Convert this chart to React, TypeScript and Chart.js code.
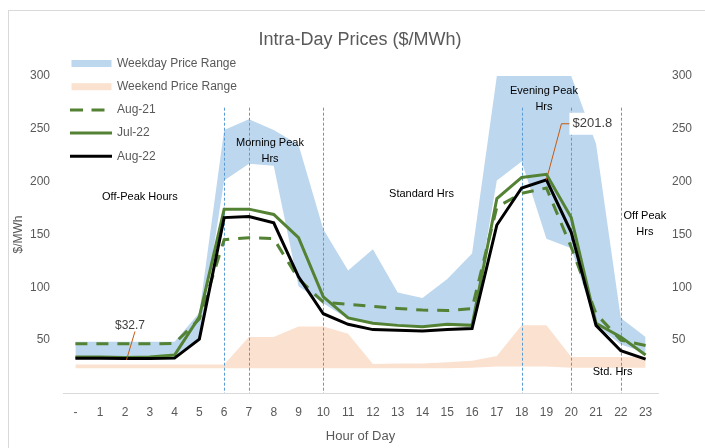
import React, { useEffect, useRef } from 'react';
import { Chart, registerables } from 'chart.js';

Chart.register(...registerables);

// ---------- data ----------
const hours = ['-', '1', '2', '3', '4', '5', '6', '7', '8', '9', '10', '11', '12', '13', '14', '15', '16', '17', '18', '19', '20', '21', '22', '23'];

const aug22 = [33, 32.8, 32.7, 32.6, 33, 51, 166, 167, 161, 110, 75, 65, 60, 59.5, 58.6, 60, 61, 159, 194, 201.8, 152, 64, 40, 32];
const jul22 = [34, 34, 33.5, 34, 36, 72, 174, 174, 169, 147, 91, 71, 66, 64, 62.7, 65, 64, 184, 204, 207, 166, 66, 53, 36];
const aug21 = [46.5, 46.5, 46.5, 46.5, 47, 70, 145, 147, 146, 108, 86, 84, 82, 80, 78.5, 78, 80, 176, 189, 194, 138, 75, 50, 45];

const weekdayMax = [48.5, 48.5, 48.5, 48.5, 48.5, 76, 249, 259, 249, 235, 155, 116, 136, 95, 90, 108, 132, 300, 300, 300, 300, 236, 71, 53];
const weekdayMin = [32, 32, 32, 32, 32, 50, 201, 217, 215, 101, 85, 70, 66, 64, 63, 64, 63, 201, 219, 146, 137, 64, 46, 38];

const weekendMax = [27, 27, 27, 27, 27, 27, 27, 53, 53, 63, 63, 56, 27.5, 28, 28, 29, 30.5, 35, 64, 64, 34, 34, 34, 34];
const weekendMin = [23.5, 23.5, 23.5, 23.5, 23.5, 23.5, 23.5, 23.5, 23.5, 23.5, 23.5, 23.5, 23.5, 23.5, 23.5, 23.5, 24, 25, 25, 25, 24, 24, 24, 24];

const yMin = 0;
const yMax = 300;
const yStep = 50;

const periodBoundaries = [6, 7, 10, 18, 20, 22];
const periodLineTop = 270;

const periodNotes = [
  { lines: ['Off-Peak Hours'], x: 2.6, y: 185.5 },
  { lines: ['Morning Peak', 'Hrs'], x: 7.85, y: 236.6 },
  { lines: ['Standard Hrs'], x: 13.96, y: 188 },
  { lines: ['Evening Peak', 'Hrs'], x: 18.9, y: 285.7 },
  { lines: ['Off Peak', 'Hrs'], x: 22.97, y: 168 },
  { lines: ['Std. Hrs'], x: 21.67, y: 20 },
];

const calloutLow = { index: 2, text: '$32.7' };
const calloutHigh = { index: 19, text: '$201.8' };

// ---------- styles ----------
const FONT = "'Liberation Sans', Arial, sans-serif";
const GREY = '#595959';
const GREEN = '#548235';
const BLUE_FILL = '#BDD7EE';
const PEACH_FILL = '#FBE1CF';
const DASH = [12, 9];

const legendItems = [
  { label: 'Weekday Price Range', kind: 'box', color: BLUE_FILL },
  { label: 'Weekend Price Range', kind: 'box', color: PEACH_FILL },
  { label: 'Aug-21', kind: 'dash', color: GREEN },
  { label: 'Jul-22', kind: 'line', color: GREEN },
  { label: 'Aug-22', kind: 'line', color: '#000000' },
];

export default function App() {
  const ref = useRef<HTMLCanvasElement>(null);

  useEffect(() => {
    const canvas = ref.current!;

    const frame = {
      id: 'frame',
      beforeDraw(chart: any) {
        const ctx = chart.ctx;
        ctx.save();
        ctx.fillStyle = '#ffffff';
        ctx.fillRect(0, 0, chart.width, chart.height);
        ctx.strokeStyle = '#D9D9D9';
        ctx.lineWidth = 1;
        ctx.strokeRect(8.5, 10.5, chart.width + 10, chart.height + 10);
        ctx.restore();
      },
    };

    const periodLines = {
      id: 'periodLines',
      afterDatasetDraw(chart: any, args: any) {
        if (args.index !== 3) return;
        const ctx = chart.ctx;
        const xs = chart.scales.x;
        const ys = chart.scales.y;
        ctx.save();
        ctx.strokeStyle = '#5B9BD5';
        ctx.lineWidth = 1;
        ctx.setLineDash([3, 2]);
        periodBoundaries.forEach((h) => {
          const x = Math.round(xs.getPixelForValue(h)) + 0.5;
          ctx.beginPath();
          ctx.moveTo(x, ys.getPixelForValue(periodLineTop));
          ctx.lineTo(x, chart.chartArea.bottom);
          ctx.stroke();
        });
        ctx.restore();
      },
    };

    const overlay = {
      id: 'overlay',
      afterDatasetsDraw(chart: any) {
        const ctx = chart.ctx;
        const xs = chart.scales.x;
        const ys = chart.scales.y;
        ctx.save();

        // period notes
        ctx.fillStyle = '#000000';
        ctx.font = `11px ${FONT}`;
        ctx.textAlign = 'center';
        ctx.textBaseline = 'middle';
        periodNotes.forEach((n) => {
          const cx = xs.getPixelForValue(n.x);
          const cy = ys.getPixelForValue(n.y);
          n.lines.forEach((t, i) => ctx.fillText(t, cx, cy + i * 16));
        });

        // callouts
        ctx.strokeStyle = '#C55A11';
        ctx.lineWidth = 1;
        // low
        {
          const px = xs.getPixelForValue(calloutLow.index);
          const py = ys.getPixelForValue(aug22[calloutLow.index]);
          ctx.beginPath();
          ctx.moveTo(px + 1.5, py + 1.5);
          ctx.lineTo(px + 10, py - 27);
          ctx.stroke();
          ctx.fillStyle = '#404040';
          ctx.font = `12px ${FONT}`;
          ctx.fillText(calloutLow.text, px + 5, py - 33);
        }
        // high
        {
          const px = xs.getPixelForValue(calloutHigh.index);
          const py = ys.getPixelForValue(aug22[calloutHigh.index]);
          ctx.fillStyle = '#ffffff';
          ctx.fillRect(px + 23, py - 67, 46, 22);
          ctx.beginPath();
          ctx.moveTo(px, py);
          ctx.lineTo(px + 15, py - 56);
          ctx.lineTo(px + 23, py - 56);
          ctx.stroke();
          ctx.fillStyle = '#404040';
          ctx.font = `13px ${FONT}`;
          ctx.fillText(calloutHigh.text, px + 46, py - 56);
        }

        // title
        ctx.fillStyle = GREY;
        ctx.font = `18px ${FONT}`;
        ctx.fillText('Intra-Day Prices ($/MWh)', 360, 40);

        // legend
        ctx.font = `12px ${FONT}`;
        ctx.textAlign = 'left';
        legendItems.forEach((it, i) => {
          const y = 63.5 + i * 23.2;
          if (it.kind === 'box') {
            ctx.fillStyle = it.color;
            ctx.fillRect(71.5, y - 3.5, 40, 7);
          } else {
            ctx.strokeStyle = it.color;
            ctx.lineWidth = 3;
            ctx.setLineDash(it.kind === 'dash' ? [13, 8.5] : []);
            ctx.beginPath();
            ctx.moveTo(70, y);
            ctx.lineTo(112, y);
            ctx.stroke();
            ctx.setLineDash([]);
          }
          ctx.fillStyle = GREY;
          ctx.fillText(it.label, 117, y);
        });

        ctx.restore();
      },
    };

    const lineBase = { pointRadius: 0, pointHoverRadius: 0, tension: 0, fill: false };
    const areaBase = { pointRadius: 0, pointHoverRadius: 0, tension: 0, borderColor: 'rgba(0,0,0,0)', borderWidth: 1 };

    const tickFont = { family: FONT, size: 12 };

    const chart = new Chart(canvas, {
      type: 'line',
      data: {
        labels: hours,
        datasets: [
          { ...lineBase, label: 'Aug-22', data: aug22, borderColor: '#000000', borderWidth: 3, order: 0 },
          { ...lineBase, label: 'Jul-22', data: jul22, borderColor: GREEN, borderWidth: 3, order: 1 },
          { ...lineBase, label: 'Aug-21', data: aug21, borderColor: GREEN, borderWidth: 3, borderDash: DASH, order: 2 },
          { ...areaBase, label: 'Weekday Min', data: weekdayMin, fill: false, order: 4 },
          { ...areaBase, label: 'Weekday Price Range', data: weekdayMax, backgroundColor: BLUE_FILL, fill: '-1', order: 4 },
          { ...areaBase, label: 'Weekend Min', data: weekendMin, fill: false, order: 6 },
          { ...areaBase, label: 'Weekend Price Range', data: weekendMax, backgroundColor: PEACH_FILL, fill: '-1', order: 6 },
        ] as any,
      },
      options: {
        responsive: false,
        animation: false,
        devicePixelRatio: 1,
        events: [],
        layout: { padding: { top: 76, left: 0, right: 0, bottom: 0 } },
        plugins: {
          legend: { display: false },
          tooltip: { enabled: false },
          title: { display: false },
        },
        scales: {
          x: {
            type: 'category',
            offset: true,
            grid: { display: false, drawTicks: false },
            border: { display: true, color: '#D9D9D9', width: 1 },
            ticks: { color: GREY, font: tickFont, padding: 12, maxRotation: 0, autoSkip: false },
            title: { display: true, text: 'Hour of Day', color: GREY, font: { family: FONT, size: 13 }, padding: { top: 0, bottom: 4 } },
            afterFit: (s: any) => { s.height = 55; },
          },
          y: {
            position: 'left',
            min: yMin,
            max: yMax,
            grid: { display: false, drawTicks: false },
            border: { display: false },
            ticks: { stepSize: yStep, color: GREY, font: tickFont, padding: 13, callback: (v: any) => (v === 0 ? '' : v) },
            title: { display: true, text: '$/MWh', color: GREY, font: { family: FONT, size: 12 }, padding: { top: 11, bottom: 0 } },
            afterFit: (s: any) => { s.width = 63; },
          },
          y2: {
            position: 'right',
            min: yMin,
            max: yMax,
            grid: { display: false, drawTicks: false },
            border: { display: false },
            ticks: { stepSize: yStep, color: GREY, font: tickFont, padding: 14, callback: (v: any) => (v === 0 ? '' : v) },
            afterFit: (s: any) => { s.width = 47; },
          },
        },
      } as any,
      plugins: [frame, periodLines, overlay],
    });

    return () => chart.destroy();
  }, []);

  return (
    <div style={{ position: 'absolute', left: 0, top: 0, width: 705, height: 448 }}>
      <canvas ref={ref} width={705} height={448} style={{ display: 'block' }} />
    </div>
  );
}
